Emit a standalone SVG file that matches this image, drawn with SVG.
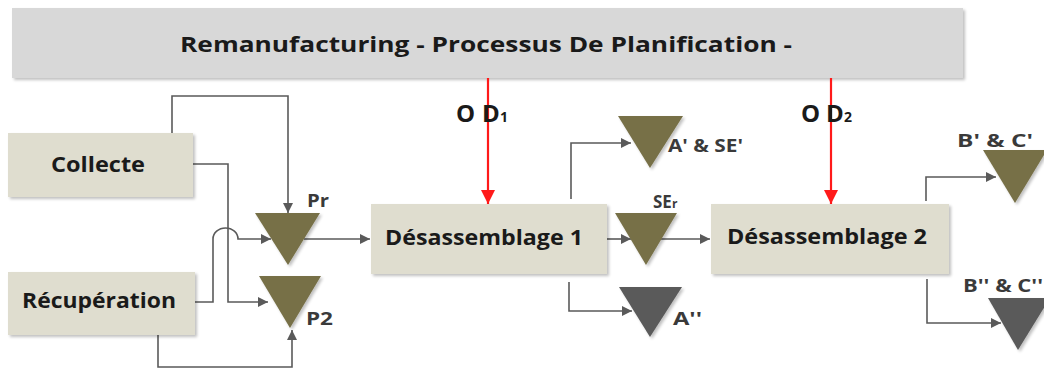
<svg xmlns="http://www.w3.org/2000/svg" width="1044" height="372" viewBox="0 0 1044 372">
<style>
.box{fill:#dfddcf;}
.title{fill:#d8d8d8;}
.t{font-family:"Open Sans","Liberation Sans",sans-serif;font-weight:700;fill:#1a1a1a;}
.lbl{font-family:"Open Sans","Liberation Sans",sans-serif;font-weight:700;fill:#3a3a3a;font-size:17px;}
.tri{fill:#777047;}
.trid{fill:#5a5a5a;}
.c{fill:none;stroke:#5a5a5a;stroke-width:1.6;}
.r{fill:none;stroke:#ff1a1a;stroke-width:2.2;}
</style>
<defs>
<marker id="ag" viewBox="0 0 10 10" refX="10" refY="5" markerWidth="11" markerHeight="10" orient="auto" markerUnits="userSpaceOnUse"><path d="M0,0 L10,5 L0,10 z" fill="#5a5a5a"/></marker>
<marker id="ar" viewBox="0 0 10 10" refX="10" refY="5" markerWidth="15" markerHeight="14" orient="auto" markerUnits="userSpaceOnUse"><path d="M0,0 L10,5 L0,10 z" fill="#ff1a1a"/></marker>
<filter id="sh" x="-10%" y="-10%" width="130%" height="130%"><feGaussianBlur in="SourceAlpha" stdDeviation="1.5"/><feOffset dx="1.5" dy="1.5"/><feComponentTransfer><feFuncA type="linear" slope="0.25"/></feComponentTransfer><feMerge><feMergeNode/><feMergeNode in="SourceGraphic"/></feMerge></filter>
</defs>
<rect width="1044" height="372" fill="#ffffff"/>

<g id="titlebar">
<rect class="title" x="12" y="8" width="951" height="70" filter="url(#sh)"/>
<text class="t" x="180" y="52" font-size="21" textLength="612" lengthAdjust="spacingAndGlyphs">Remanufacturing - Processus De Planification -</text>
</g>

<g id="connectors">
<path class="c" d="M172,133 V96 H288 V213" marker-end="url(#ag)"/>
<path class="c" d="M193,164 H228 V302 H268" marker-end="url(#ag)"/>
<path class="c" d="M195,302 H213 V239 A12.5,11 0 0 1 238,239 H271" marker-end="url(#ag)"/>
<path class="c" d="M158,335 V367 H292 V330" marker-end="url(#ag)"/>
<path class="c" d="M304,239 H370" marker-end="url(#ag)"/>
<path class="c" d="M571,199 V143 H631" marker-end="url(#ag)"/>
<path class="c" d="M607,239 H631" marker-end="url(#ag)"/>
<path class="c" d="M661,239 H710" marker-end="url(#ag)"/>
<path class="c" d="M569,282 V311 H632" marker-end="url(#ag)"/>
<path class="c" d="M926,201 V177 H996" marker-end="url(#ag)"/>
<path class="c" d="M927,279 V323 H1001" marker-end="url(#ag)"/>
<path class="r" d="M488,78 V204" marker-end="url(#ar)"/>
<path class="r" d="M831,78 V204" marker-end="url(#ar)"/>
</g>

<g id="collecte">
<rect class="box" x="8" y="133" width="185" height="64" filter="url(#sh)"/>
<text class="t" x="51" y="172" font-size="21" textLength="94" lengthAdjust="spacingAndGlyphs">Collecte</text>
</g>

<g id="recuperation">
<rect class="box" x="8" y="272" width="187" height="63" filter="url(#sh)"/>
<text class="t" x="22" y="308" font-size="21" textLength="154" lengthAdjust="spacingAndGlyphs">Récupération</text>
</g>

<g id="pr">
<polygon class="tri" points="255,213 320,213 288,265" filter="url(#sh)"/>
<text class="lbl" x="307" y="207" textLength="22" lengthAdjust="spacingAndGlyphs">Pr</text>
</g>

<g id="p2">
<polygon class="tri" points="259,276 321,276 290,328" filter="url(#sh)"/>
<text class="lbl" x="306" y="325" textLength="27" lengthAdjust="spacingAndGlyphs">P2</text>
</g>

<g id="desassemblage1">
<rect class="box" x="371" y="204" width="236" height="70" filter="url(#sh)"/>
<text class="t" x="385" y="245" font-size="21" textLength="198" lengthAdjust="spacingAndGlyphs">Désassemblage 1</text>
</g>

<g id="od1">
<text class="t" x="456" y="122" font-size="24" fill="#111">O<tspan dx="7">D</tspan><tspan font-size="14">1</tspan></text>
</g>

<g id="a-se">
<polygon class="tri" points="618,116 683,116 650,168" filter="url(#sh)"/>
<text class="lbl" x="668" y="152" textLength="75" lengthAdjust="spacingAndGlyphs">A' &amp; SE'</text>
</g>

<g id="ser">
<polygon class="tri" points="615,213 677,213 646,265" filter="url(#sh)"/>
<text class="lbl" x="653" y="208">SE<tspan font-size="12">r</tspan></text>
</g>

<g id="a2">
<polygon class="trid" points="619,287 682,287 650,337" filter="url(#sh)"/>
<text class="lbl" x="673" y="325" textLength="29" lengthAdjust="spacingAndGlyphs">A''</text>
</g>

<g id="desassemblage2">
<rect class="box" x="711" y="204" width="238" height="70" filter="url(#sh)"/>
<text class="t" x="727" y="244" font-size="21" textLength="200" lengthAdjust="spacingAndGlyphs">Désassemblage 2</text>
</g>

<g id="od2">
<text class="t" x="801" y="122" font-size="24" fill="#111">O<tspan dx="6">D</tspan><tspan font-size="14">2</tspan></text>
</g>

<g id="bc1">
<polygon class="tri" points="983,150 1047,150 1015,203" filter="url(#sh)"/>
<text class="lbl" x="957" y="147" textLength="76" lengthAdjust="spacingAndGlyphs">B' &amp; C'</text>
</g>

<g id="bc2">
<polygon class="trid" points="988,298 1050,298 1018,350" filter="url(#sh)"/>
<text class="lbl" x="963" y="292" textLength="80" lengthAdjust="spacingAndGlyphs">B'' &amp; C''</text>
</g>
</svg>
